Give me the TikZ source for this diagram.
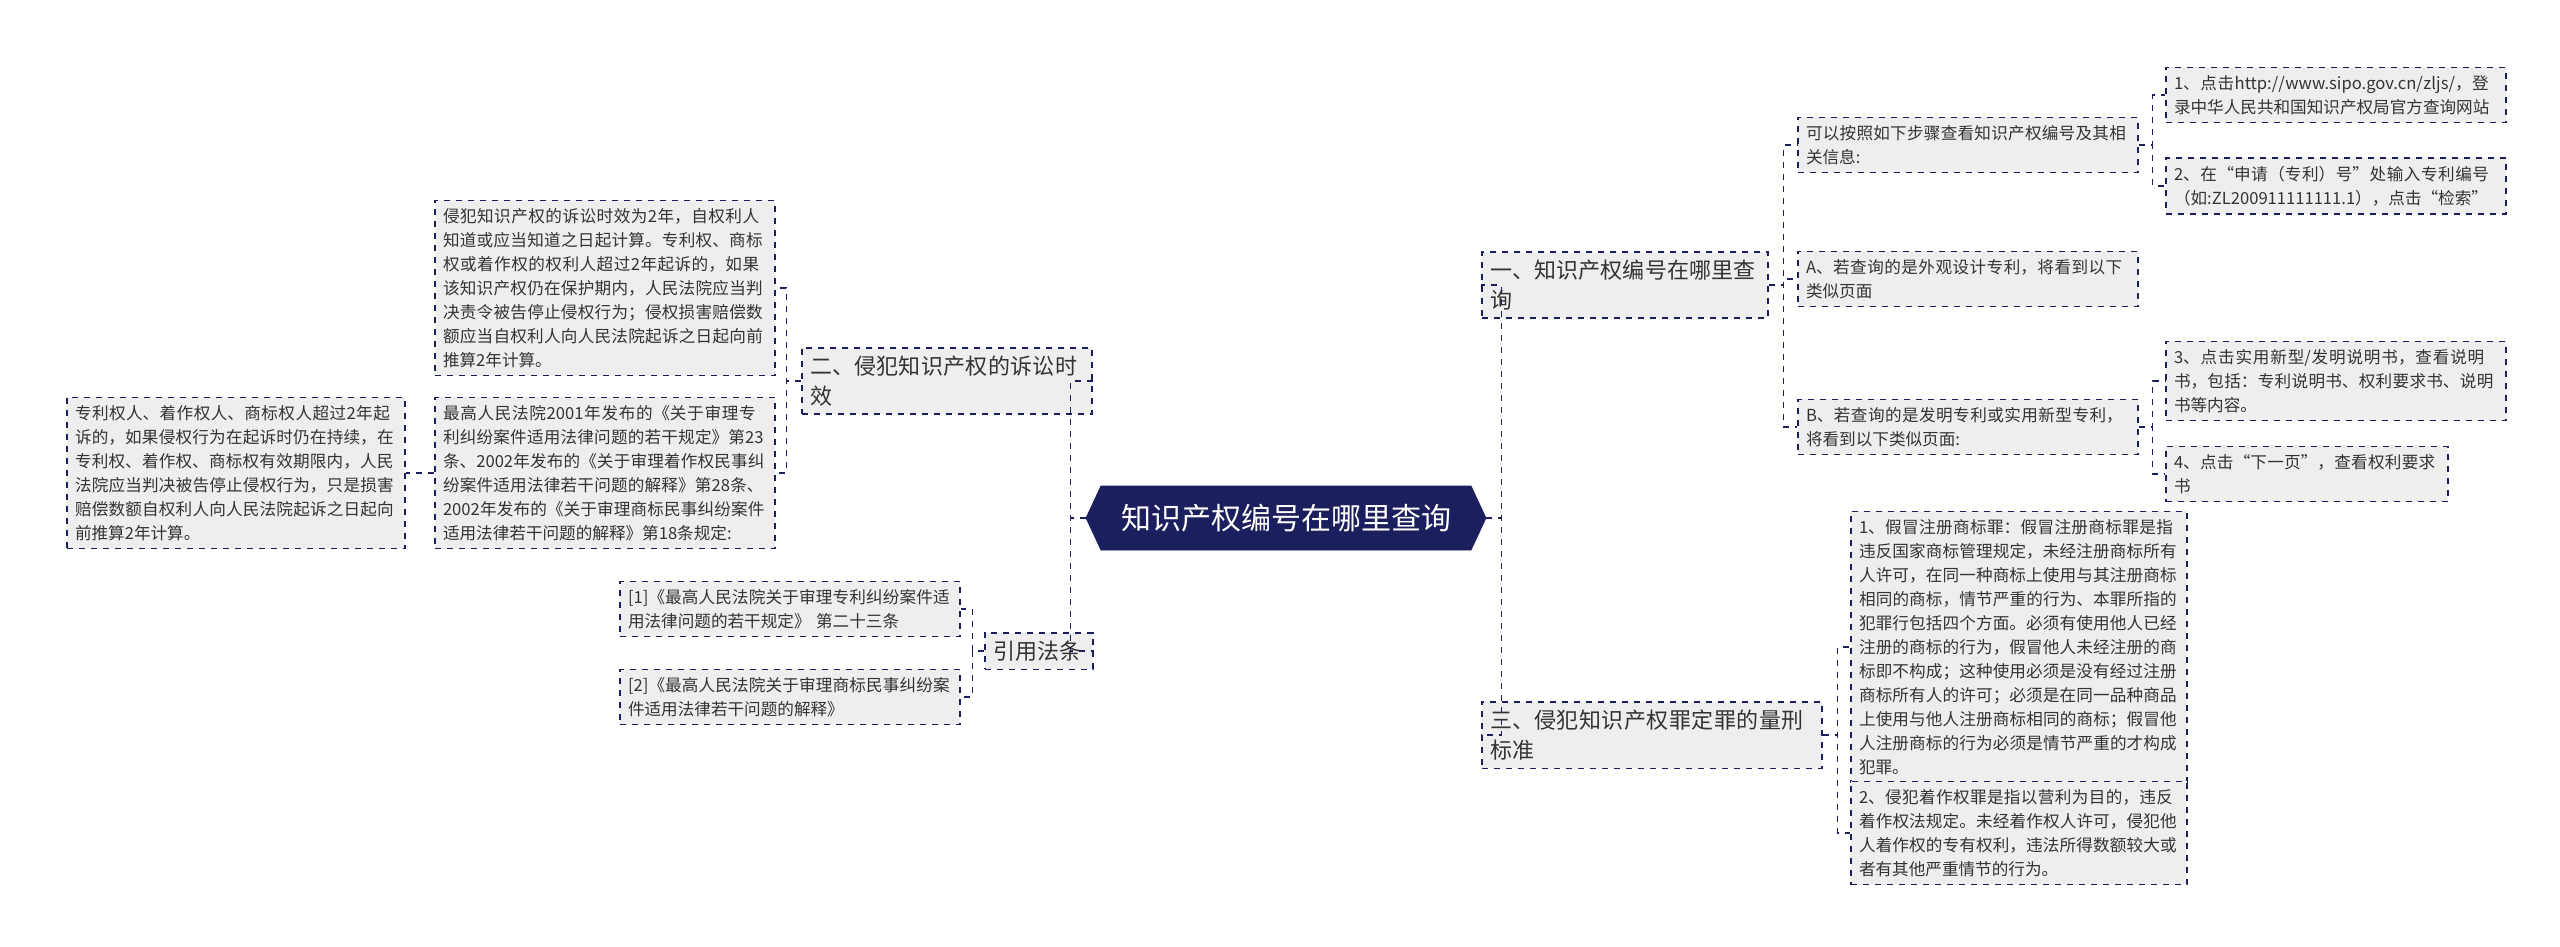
\documentclass[tikz,border=0pt]{standalone}
\usepackage{fontspec}
\setmainfont{Noto Sans CJK SC}
\XeTeXlinebreaklocale "zh"
\XeTeXlinebreakskip=0pt plus 1pt
\usepackage{xcolor}
\usepackage{tikz}
\usetikzlibrary{shapes.symbols}
\definecolor{navy}{HTML}{1B1F5E}
\definecolor{boxgray}{HTML}{EEEEEE}
\definecolor{ink}{HTML}{333333}

\begin{document}
\begin{tikzpicture}[x=0.5pt, y=-0.5pt,
    every node/.style={font=\fontsize{8.3}{12}\selectfont, text=ink},
    leaf/.style={draw=navy, dashed, line width=0.7pt, fill=boxgray, align=left, inner sep=4pt, anchor=center},
    topic/.style={leaf, font=\fontsize{11}{15}\selectfont},
    link/.style={draw=navy, dashed, line width=0.7pt}]
   % Canvas
   \useasboundingbox (0,0) rectangle (2560,947);
   % Root
   \node[signal, signal to=west and east, signal pointer angle=130, fill=navy, draw=navy,
         text=white, font=\fontsize{15}{18}\selectfont, minimum width=330pt*0.5, minimum height=32pt, inner xsep=10pt]
        (root) at (1286,518) {知识产权编号在哪里查询};
   % First level
   \node[topic, text width=135pt] (hao) at (1625,285) {一、知识产权编号在哪里查询};
   \node[topic, text width=162pt] (xing) at (1652,735) {三、侵犯知识产权罪定罪的量刑标准};
   \node[topic, text width=137pt] (shixiao) at (947,381) {二、侵犯知识产权的诉讼时效};
   \node[topic, text width=46pt] (fatiao) at (1039,651) {引用法条};
   % Right branch: steps
   \node[leaf, text width=162pt] (buzhou) at (1968,145) {可以按照如下步骤查看知识产权编号及其相关信息:};
   \node[leaf, text width=162pt] (waiguan) at (1968,279) {A、若查询的是外观设计专利，将看到以下类似页面};
   \node[leaf, text width=162pt] (faming) at (1968,427) {B、若查询的是发明专利或实用新型专利，将看到以下类似页面:};
   \node[leaf, text width=162pt] (bu1) at (2336,95) {1、点击http://www.sipo.gov.cn/zljs/，登录中华人民共和国知识产权局官方查询网站};
   \node[leaf, text width=162pt] (bu2) at (2336,186) {2、在“申请（专利）号”处输入专利编号（如:ZL200911111111.1），点击“检索”};
   \node[leaf, text width=162pt] (bu3) at (2336,381) {3、点击实用新型/发明说明书，查看说明书，包括：专利说明书、权利要求书、说明书等内容。};
   \node[leaf, text width=133pt] (bu4) at (2307,474) {4、点击“下一页”，查看权利要求书};
   % Right branch: penalties
   \node[leaf, text width=160pt] (zui1) at (2019,647) {1、假冒注册商标罪：假冒注册商标罪是指违反国家商标管理规定，未经注册商标所有人许可，在同一种商标上使用与其注册商标相同的商标，情节严重的行为、本罪所指的犯罪行包括四个方面。必须有使用他人已经注册的商标的行为，假冒他人未经注册的商标即不构成；这种使用必须是没有经过注册商标所有人的许可；必须是在同一品种商品上使用与他人注册商标相同的商标；假冒他人注册商标的行为必须是情节严重的才构成犯罪。};
   \node[leaf, text width=160pt] (zui2) at (2019,833) {2、侵犯着作权罪是指以营利为目的，违反着作权法规定。未经着作权人许可，侵犯他人着作权的专有权利，违法所得数额较大或者有其他严重情节的行为。};
   % Left branch: time limits
   \node[leaf, text width=162pt] (shuoming) at (605,288) {侵犯知识产权的诉讼时效为2年，自权利人知道或应当知道之日起计算。专利权、商标权或着作权的权利人超过2年起诉的，如果该知识产权仍在保护期内，人民法院应当判决责令被告停止侵权行为；侵权损害赔偿数额应当自权利人向人民法院起诉之日起向前推算2年计算。};
   \node[leaf, text width=162pt] (guiding) at (605,473) {最高人民法院2001年发布的《关于审理专利纠纷案件适用法律问题的若干规定》第23条、2002年发布的《关于审理着作权民事纠纷案件适用法律若干问题的解释》第28条、2002年发布的《关于审理商标民事纠纷案件适用法律若干问题的解释》第18条规定:};
   \node[leaf, text width=161pt] (chixu) at (236,473) {专利权人、着作权人、商标权人超过2年起诉的，如果侵权行为在起诉时仍在持续，在专利权、着作权、商标权有效期限内，人民法院应当判决被告停止侵权行为，只是损害赔偿数额自权利人向人民法院起诉之日起向前推算2年计算。};
   % Left branch: statutes
   \node[leaf, text width=162pt] (fa1) at (790,609) {[1]《最高人民法院关于审理专利纠纷案件适用法律问题的若干规定》 第二十三条};
   \node[leaf, text width=162pt] (fa2) at (790,697) {[2]《最高人民法院关于审理商标民事纠纷案件适用法律若干问题的解释》};
   % Connectors
   \draw[link] (root.east) -- ++(15,0) |- (hao.west);
   \draw[link] (root.east) -- ++(15,0) |- (xing.west);
   \draw[link] (root.west) -- ++(-15,0) |- (shixiao.east);
   \draw[link] (root.west) -- ++(-15,0) |- (fatiao.east);
   \draw[link] (hao.east) -- ++(15,0) |- (buzhou.west);
   \draw[link] (hao.east) -- ++(15,0) |- (waiguan.west);
   \draw[link] (hao.east) -- ++(15,0) |- (faming.west);
   \draw[link] (buzhou.east) -- ++(14,0) |- (bu1.west);
   \draw[link] (buzhou.east) -- ++(14,0) |- (bu2.west);
   \draw[link] (faming.east) -- ++(14,0) |- (bu3.west);
   \draw[link] (faming.east) -- ++(14,0) |- (bu4.west);
   \draw[link] (xing.east) -- ++(15,0) |- (zui1.west);
   \draw[link] (xing.east) -- ++(15,0) |- (zui2.west);
   \draw[link] (shixiao.west) -- ++(-15,0) |- (shuoming.east);
   \draw[link] (shixiao.west) -- ++(-15,0) |- (guiding.east);
   \draw[link] (guiding.west) -- (chixu.east);
   \draw[link] (fatiao.west) -- ++(-12,0) |- (fa1.east);
   \draw[link] (fatiao.west) -- ++(-12,0) |- (fa2.east);
\end{tikzpicture}
\end{document}
